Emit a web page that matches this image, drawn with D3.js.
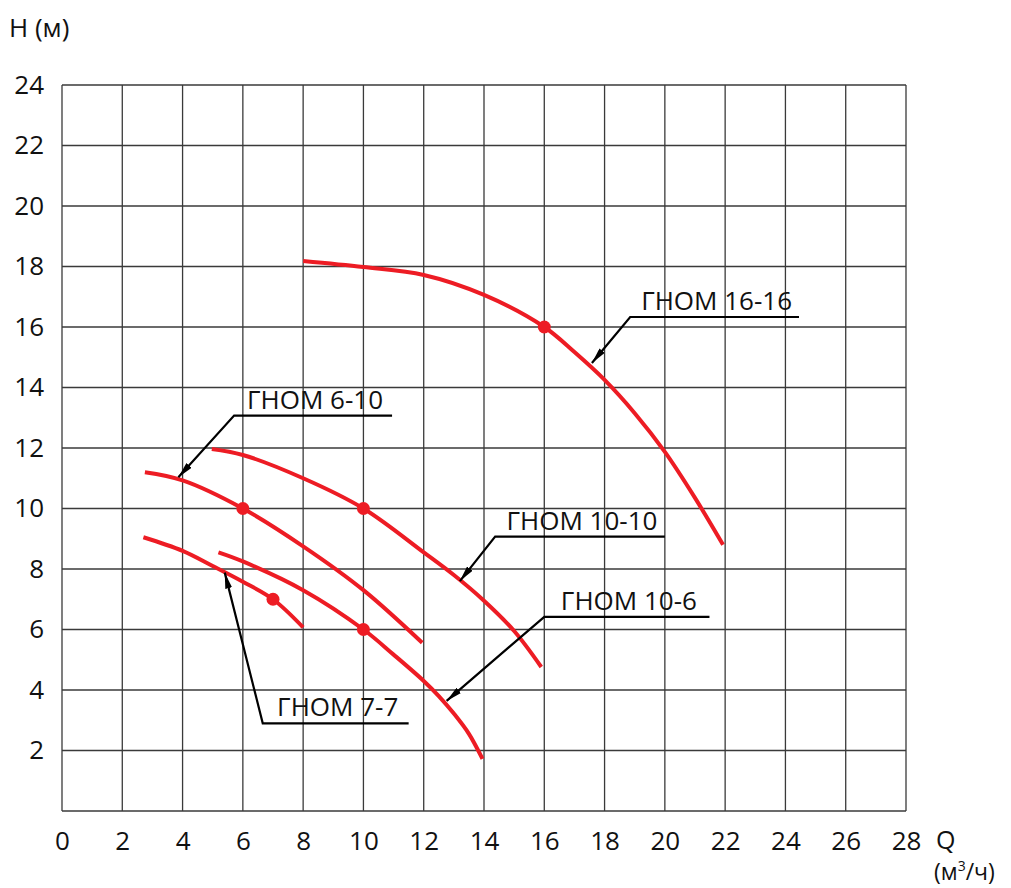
<!DOCTYPE html>
<html>
<head>
<meta charset="utf-8">
<script src="https://cdn.jsdelivr.net/npm/d3@7"></script>
<style>
  body { margin: 0; background: #fff; }
  text { font-family: "Open Sans", "Noto Sans", sans-serif; fill: #111; }
</style>
</head>
<body>
<div id="chart"></div>
<script>
// 1: DATA
const xTicks = [0, 2, 4, 6, 8, 10, 12, 14, 16, 18, 20, 22, 24, 26, 28];
const yTicks = [2, 4, 6, 8, 10, 12, 14, 16, 18, 20, 22, 24];

// pump curves, Q (m3/h) and H (m)
const q1616 = [8.0, 10, 12, 14, 16, 17, 18, 19, 20, 21, 21.93];
const h1616 = [18.18, 17.98, 17.72, 17.06, 16.0, 15.17, 14.25, 13.15, 11.87, 10.35, 8.8];

const q610 = [2.75, 4, 6, 8, 10, 11.95];
const h610 = [11.2, 10.93, 10.0, 8.75, 7.3, 5.56];

const q1010 = [4.97, 6, 8, 10, 12, 13, 14, 15, 15.9];
const h1010 = [11.97, 11.77, 11.0, 10.0, 8.55, 7.8, 6.95, 5.95, 4.76];

const q77 = [2.7, 4, 5, 6, 7, 8.0];
const h77 = [9.05, 8.6, 8.1, 7.58, 7.0, 6.07];

const q106 = [5.19, 6, 8, 10, 11, 12, 12.5, 13, 13.5, 13.95];
const h106 = [8.55, 8.25, 7.3, 6.0, 5.17, 4.3, 3.8, 3.22, 2.55, 1.72];

// duty points
const dotQ = [16, 6, 10, 7, 10];
const dotH = [16, 10, 10, 7, 6];

// labels: name, underline start (Q,H), underline end Q, arrow tip (Q,H)
const labelNames = ["ГНОМ 16-16", "ГНОМ 6-10", "ГНОМ 10-10", "ГНОМ 10-6", "ГНОМ 7-7"];
const labelQ = [18.85, 5.71, 14.37, 16.0, 6.66];
const labelH = [16.33, 13.07, 9.07, 6.42, 2.9];
const labelEndQ = [24.45, 10.95, 20.0, 21.48, 11.5];
const tipQ = [17.58, 3.86, 13.2, 12.76, 5.4];
const tipH = [14.81, 11.03, 7.6, 3.64, 7.88];

// 2: SIZES
const W = 1011, H = 888;
const margin = { top: 85, right: 105, bottom: 77, left: 62 };
const width = W - margin.left - margin.right;
const height = H - margin.top - margin.bottom;

const svg = d3.select("#chart").append("svg")
    .attr("width", W)
    .attr("height", H);

const defs = svg.append("defs");
defs.append("marker")
    .attr("id", "arrow")
    .attr("viewBox", "0 0 16 7")
    .attr("refX", 16)
    .attr("refY", 3.5)
    .attr("markerWidth", 16)
    .attr("markerHeight", 7)
    .attr("markerUnits", "userSpaceOnUse")
    .attr("orient", "auto")
    .append("path")
    .attr("d", "M0,0 L16,3.5 L0,7 Z")
    .attr("fill", "#000");

const g = svg.append("g")
    .attr("transform", `translate(${margin.left},${margin.top})`);

// 3: SCALES
const x = d3.scaleLinear().domain([0, 28]).range([0, width]);
const y = d3.scaleLinear().domain([0, 24]).range([height, 0]);

// 4: GRID
g.append("g")
    .selectAll("line")
    .data(xTicks)
    .join("line")
    .attr("x1", d => x(d)).attr("x2", d => x(d))
    .attr("y1", 0).attr("y2", height)
    .attr("stroke", "#3a3a3a")
    .attr("stroke-width", 1.3);

g.append("g")
    .selectAll("line")
    .data([0].concat(yTicks))
    .join("line")
    .attr("x1", 0).attr("x2", width)
    .attr("y1", d => y(d)).attr("y2", d => y(d))
    .attr("stroke", "#3a3a3a")
    .attr("stroke-width", 1.3);

// 5: AXES (tick labels only)
const xAxis = g.append("g")
    .attr("transform", `translate(0,${height})`)
    .call(d3.axisBottom(x).tickValues(xTicks).tickSize(0).tickPadding(21));
xAxis.select(".domain").remove();
xAxis.selectAll("text")
    .style("font-size", "26px")
    .style("font-family", "'Open Sans', sans-serif")
    .attr("fill", "#111");

const yAxis = g.append("g")
    .call(d3.axisLeft(y).tickValues(yTicks).tickSize(0).tickPadding(18));
yAxis.select(".domain").remove();
yAxis.selectAll("text")
    .style("font-size", "26px")
    .style("font-family", "'Open Sans', sans-serif")
    .attr("fill", "#111");

// axis titles
svg.append("text")
    .attr("x", 9).attr("y", 37)
    .style("font-size", "26px")
    .text("H (м)");

svg.append("text")
    .attr("x", 936).attr("y", 849)
    .style("font-size", "25px")
    .text("Q");

const unit = svg.append("text")
    .attr("x", 934).attr("y", 880)
    .style("font-size", "23px")
    .text("(м");
unit.append("tspan").attr("dy", -9).style("font-size", "14px").text("3");
unit.append("tspan").attr("dy", 9).text("/ч)");

// 6: CURVES
const curves = [[q1616, h1616], [q610, h610], [q1010, h1010], [q77, h77], [q106, h106]];
const line = d3.line()
    .x(d => x(d[0]))
    .y(d => y(d[1]))
    .curve(d3.curveCatmullRom.alpha(0.5));

g.append("g")
    .selectAll("path")
    .data(curves.map(([qs, hs]) => qs.map((q, i) => [q, hs[i]])))
    .join("path")
    .attr("d", line)
    .attr("fill", "none")
    .attr("stroke", "#ed1c24")
    .attr("stroke-width", 4);

g.append("g")
    .selectAll("circle")
    .data(dotQ.map((q, i) => [q, dotH[i]]))
    .join("circle")
    .attr("cx", d => x(d[0]))
    .attr("cy", d => y(d[1]))
    .attr("r", 6.5)
    .attr("fill", "#ed1c24");

// 7: LABELS WITH LEADERS
const labels = labelNames.map((name, i) => ({
    name, q: labelQ[i], h: labelH[i], qEnd: labelEndQ[i], tq: tipQ[i], th: tipH[i]
}));

const lg = g.append("g").selectAll("g").data(labels).join("g");

lg.append("path")
    .attr("d", d => `M${x(d.qEnd)},${y(d.h)} L${x(d.q)},${y(d.h)} L${x(d.tq)},${y(d.th)}`)
    .attr("fill", "none")
    .attr("stroke", "#000")
    .attr("stroke-width", 2.2)
    .attr("marker-end", "url(#arrow)");

lg.append("text")
    .attr("x", d => (x(d.q) + x(d.qEnd)) / 2 + 2)
    .attr("y", d => y(d.h) - 7)
    .attr("text-anchor", "middle")
    .style("font-size", "26px")
    .text(d => d.name);
</script>
</body>
</html>
